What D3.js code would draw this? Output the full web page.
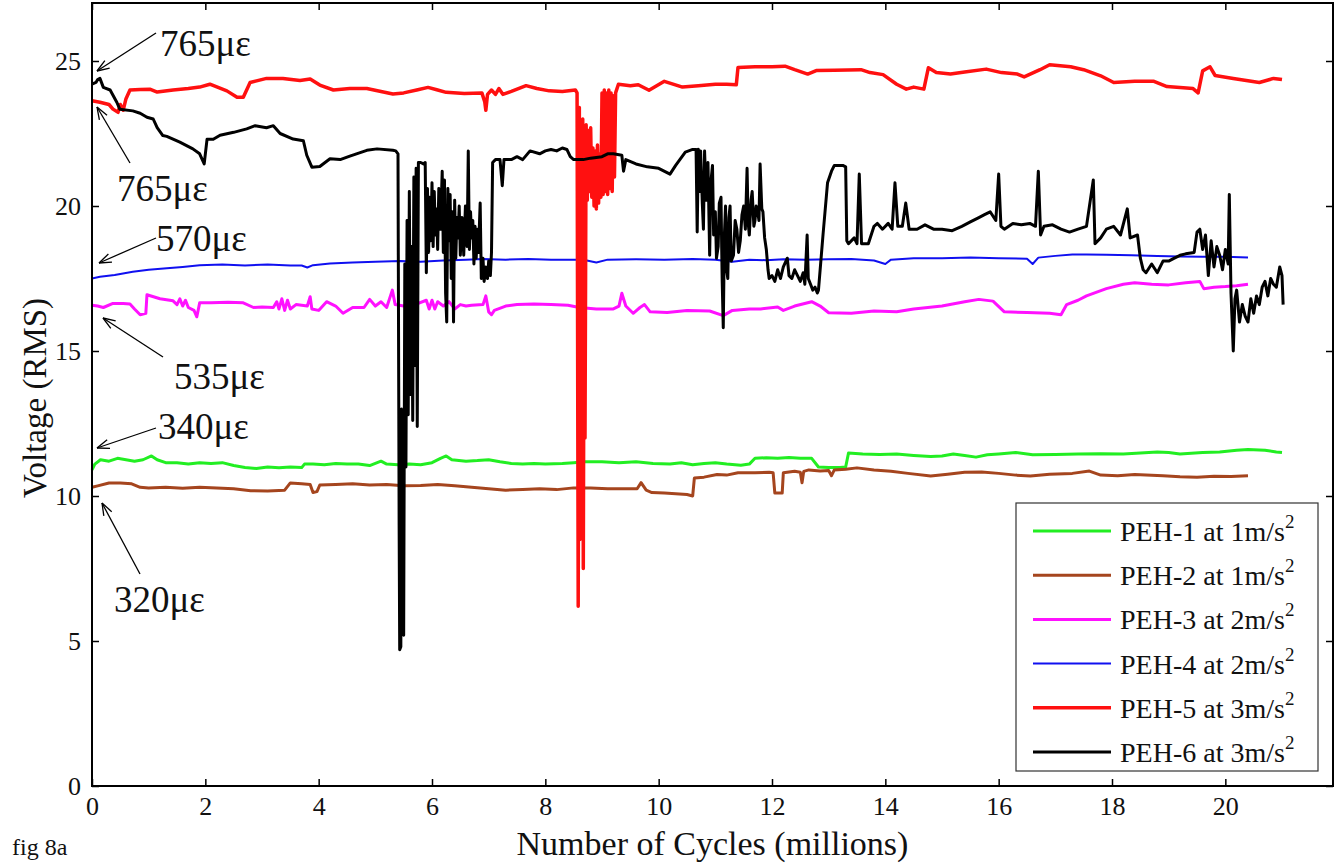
<!DOCTYPE html>
<html>
<head>
<meta charset="utf-8">
<script src="https://cdn.jsdelivr.net/npm/d3@7"></script>
<style>
  body { margin: 0; background: #fff; }
  svg { display: block; font-family: "Liberation Serif", "Times New Roman", serif; }
</style>
</head>
<body>
<div id="chart"></div>
<script>
// x = cycles (millions), y = voltage (RMS)
var xTicks = [0, 2, 4, 6, 8, 10, 12, 14, 16, 18, 20];
var yTicks = [0, 5, 10, 15, 20, 25];

var labels = ["PEH-1 at 1m/s", "PEH-2 at 1m/s", "PEH-3 at 2m/s", "PEH-4 at 2m/s", "PEH-5 at 3m/s", "PEH-6 at 3m/s"];

var peh1 = [[0,10.9],[0.05,11.1],[0.15,11.25],[0.3,11.2],[0.45,11.3],[0.6,11.25],[0.75,11.2],[0.9,11.25],[1.05,11.38],
  [1.15,11.25],[1.3,11.15],[1.5,11.15],[1.7,11.1],[1.9,11.15],[2.1,11.12],[2.3,11.15],[2.5,11.05],[2.7,10.98],[2.9,10.95],
  [3.1,11.0],[3.3,10.97],[3.5,11.0],[3.7,10.98],[3.75,11.1],[3.9,11.1],[4.1,11.08],[4.3,11.12],[4.5,11.1],[4.7,11.1],
  [4.9,11.05],[5.1,11.2],[5.2,11.1],[5.4,11.08],[5.6,11.1],[5.8,11.08],[6.0,11.15],[6.15,11.3],[6.25,11.38],[6.35,11.25],
  [6.6,11.2],[6.8,11.22],[7.0,11.25],[7.2,11.18],[7.4,11.12],[7.6,11.1],[7.8,11.12],[8.0,11.1],[8.3,11.12],[8.5,11.15],
  [8.7,11.18],[9.0,11.18],[9.3,11.15],[9.6,11.18],[9.9,11.12],[10.2,11.1],[10.4,11.15],[10.6,11.08],[10.8,11.12],
  [11.0,11.15],[11.2,11.1],[11.45,11.06],[11.6,11.1],[11.7,11.3],[11.9,11.32],[12.1,11.3],[12.3,11.33],[12.5,11.3],
  [12.7,11.3],[12.82,11.0],[13.0,10.98],[13.2,10.98],[13.3,11.0],[13.35,11.48],[13.6,11.45],[13.9,11.43],[14.2,11.45],
  [14.5,11.4],[14.8,11.36],[15.0,11.38],[15.2,11.45],[15.4,11.4],[15.6,11.34],[15.8,11.42],[16.0,11.45],[16.3,11.5],
  [16.6,11.42],[17.0,11.43],[17.4,11.45],[17.8,11.46],[18.2,11.45],[18.5,11.48],[18.8,11.52],[19.0,11.5],[19.2,11.45],
  [19.6,11.5],[19.9,11.52],[20.2,11.58],[20.4,11.6],[20.7,11.58],[20.9,11.52],[21.0,11.5]];

var peh2 = [[0,10.3],[0.1,10.35],[0.3,10.45],[0.5,10.45],[0.7,10.42],[0.85,10.3],[1.0,10.28],[1.3,10.3],[1.6,10.27],
  [1.9,10.3],[2.2,10.28],[2.5,10.25],[2.8,10.18],[3.1,10.17],[3.4,10.2],[3.5,10.45],[3.7,10.42],[3.85,10.4],[3.9,10.12],
  [3.97,10.15],[4.02,10.38],[4.3,10.4],[4.6,10.42],[4.9,10.38],[5.2,10.4],[5.5,10.35],[5.8,10.36],[6.1,10.4],[6.4,10.35],
  [6.7,10.3],[7.0,10.25],[7.3,10.2],[7.6,10.22],[7.9,10.25],[8.2,10.22],[8.5,10.28],[8.8,10.28],[9.1,10.25],[9.4,10.25],
  [9.62,10.25],[9.69,10.46],[9.78,10.2],[9.88,10.12],[10.1,10.1],[10.3,10.08],[10.5,10.05],[10.6,10.0],[10.63,10.62],
  [10.8,10.65],[11.03,10.74],[11.2,10.72],[11.4,10.8],[11.7,10.8],[11.95,10.82],[12.02,10.8],[12.05,10.1],[12.18,10.1],
  [12.2,10.8],[12.4,10.85],[12.5,10.82],[12.53,10.46],[12.56,10.85],[12.65,10.9],[12.85,10.86],[13.0,10.88],[13.05,10.7],
  [13.1,10.9],[13.3,10.92],[13.5,10.97],[13.8,10.9],[14.1,10.85],[14.4,10.78],[14.8,10.69],[15.1,10.75],[15.4,10.82],
  [15.7,10.83],[16.0,10.78],[16.3,10.72],[16.56,10.69],[16.9,10.75],[17.3,10.78],[17.6,10.86],[17.8,10.72],[18.1,10.7],
  [18.4,10.74],[18.6,10.72],[18.9,10.7],[19.2,10.66],[19.5,10.65],[19.8,10.68],[20.1,10.67],[20.4,10.7]];

var peh3 = [[0,16.58],[0.1,16.55],[0.2,16.5],[0.37,16.64],[0.55,16.64],[0.67,16.62],[0.75,16.45],[0.85,16.25],[0.95,16.3],
  [0.97,16.94],[1.2,16.8],[1.43,16.73],[1.5,16.6],[1.55,16.8],[1.6,16.55],[1.65,16.75],[1.7,16.5],[1.8,16.4],[1.85,16.18],
  [1.9,16.66],[2.1,16.66],[2.4,16.68],[2.67,16.66],[2.85,16.5],[3.0,16.52],[3.2,16.5],[3.26,16.7],[3.3,16.45],[3.35,16.8],
  [3.4,16.4],[3.45,16.75],[3.5,16.45],[3.6,16.6],[3.8,16.55],[3.85,16.87],[3.88,16.45],[4.0,16.4],[4.14,16.7],[4.3,16.55],
  [4.43,16.3],[4.6,16.5],[4.8,16.5],[4.9,16.78],[5.0,16.55],[5.1,16.7],[5.2,16.5],[5.3,17.1],[5.35,16.6],[5.5,16.55],
  [5.7,16.6],[5.9,16.75],[5.95,16.45],[6.0,16.75],[6.05,16.45],[6.1,16.7],[6.2,16.55],[6.3,16.7],[6.4,16.45],[6.5,16.6],
  [6.6,16.55],[6.7,16.58],[6.9,16.6],[6.95,16.9],[7.0,16.35],[7.05,16.25],[7.1,16.4],[7.3,16.55],[7.5,16.6],[7.8,16.62],
  [8.1,16.6],[8.4,16.58],[8.6,16.5],[8.9,16.45],[9.2,16.45],[9.3,16.55],[9.35,16.99],[9.42,16.55],[9.55,16.3],[9.67,16.5],
  [9.75,16.6],[9.85,16.35],[10.15,16.33],[10.5,16.4],[10.9,16.38],[11.14,16.22],[11.3,16.4],[11.6,16.45],[11.8,16.45],
  [12.1,16.52],[12.2,16.4],[12.4,16.55],[12.7,16.7],[12.85,16.55],[13.0,16.32],[13.4,16.3],[13.8,16.38],[14.2,16.35],
  [14.5,16.45],[15.0,16.55],[15.4,16.7],[15.65,16.78],[15.9,16.72],[16.1,16.35],[16.5,16.33],[16.9,16.3],[17.1,16.25],
  [17.2,16.6],[17.4,16.75],[17.55,16.9],[17.9,17.15],[18.2,17.3],[18.4,17.35],[18.7,17.3],[19.0,17.28],[19.3,17.35],
  [19.55,17.4],[19.62,17.15],[19.8,17.2],[20.0,17.22],[20.2,17.25],[20.4,17.3]];

var peh4 = [[0,17.5],[0.14,17.56],[0.4,17.62],[0.72,17.73],[1.0,17.8],[1.32,17.85],[1.6,17.9],[1.9,17.96],[2.3,17.98],
  [2.7,17.95],[3.1,17.98],[3.5,17.95],[3.7,17.95],[3.8,17.88],[3.9,17.96],[4.2,18.02],[4.6,18.05],[5.0,18.08],[5.44,18.1],
  [5.8,18.08],[6.2,18.12],[6.6,18.15],[6.9,18.17],[7.3,18.15],[7.7,18.17],[8.1,18.15],[8.67,18.15],[8.9,18.05],[9.1,18.15],
  [9.6,18.16],[10.1,18.15],[10.6,18.17],[11.0,18.15],[11.3,18.08],[11.6,18.15],[11.9,18.13],[12.2,18.16],[12.6,18.15],
  [13.0,18.16],[13.4,18.17],[13.8,18.12],[14.0,18.0],[14.1,18.15],[14.5,18.2],[15.0,18.2],[15.5,18.22],[16.0,18.2],
  [16.5,18.18],[16.6,18.0],[16.7,18.22],[17.0,18.28],[17.3,18.33],[17.55,18.33],[17.9,18.32],[18.34,18.3],[18.8,18.28],
  [19.2,18.26],[19.6,18.25],[20.0,18.25],[20.4,18.22]];

var peh5 = [[0,23.63],[0.14,23.58],[0.3,23.5],[0.37,23.34],[0.46,23.23],[0.5,23.5],[0.55,23.3],[0.6,23.7],[0.67,24.0],
  [0.85,24.02],[1.02,24.03],[1.15,23.93],[1.43,24.0],[1.7,24.05],[1.9,24.1],[2.08,24.2],[2.38,23.97],[2.56,23.75],
  [2.67,23.75],[2.79,24.26],[3.08,24.4],[3.37,24.4],[3.67,24.33],[3.85,24.38],[4.02,24.17],[4.26,24.0],[4.55,24.05],
  [4.85,24.05],[5.1,23.95],[5.31,23.86],[5.5,23.9],[5.73,24.0],[5.93,24.09],[6.1,24.0],[6.25,23.92],[6.57,23.88],
  [6.88,23.9],[6.93,23.6],[6.95,23.3],[6.98,23.85],[7.05,24.0],[7.12,23.85],[7.18,24.05],[7.25,23.85],[7.4,23.95],
  [7.66,24.15],[7.85,24.05],[8.07,23.97],[8.3,23.95],[8.53,24.0],[8.56,23.9],
  [8.58,6.2],[8.6,23.4],[8.61,8.5],[8.63,22.8],[8.64,10.5],[8.66,23.0],[8.67,7.5],[8.69,22.5],[8.7,12.0],[8.72,22.8],
  [8.74,20.2],[8.76,22.6],[8.78,20.5],[8.8,22.7],[8.82,20.3],[8.84,22.0],[8.86,20.0],[8.88,21.9],[8.9,19.9],[8.92,22.1],
  [8.94,20.1],[8.96,21.8],[8.98,20.3],[9.0,23.9],[9.02,20.4],[9.04,24.0],[9.06,20.5],[9.08,23.9],[9.1,20.4],[9.12,24.0],
  [9.14,20.6],[9.16,23.9],[9.18,20.5],[9.2,23.8],[9.22,21.0],[9.24,23.9],[9.29,24.2],
  [9.5,24.15],[9.64,24.18],[9.83,23.99],[10.1,24.3],[10.42,24.1],[10.7,24.15],[11.0,24.2],[11.2,24.2],[11.37,24.18],
  [11.4,24.78],[11.7,24.8],[12.0,24.8],[12.23,24.82],[12.4,24.7],[12.63,24.55],[12.78,24.67],[13.1,24.68],[13.57,24.7],
  [13.73,24.6],[13.96,24.53],[14.2,24.2],[14.37,24.03],[14.5,24.1],[14.68,24.03],[14.76,24.77],[14.9,24.6],[15.15,24.55],
  [15.4,24.62],[15.78,24.72],[16.05,24.6],[16.33,24.55],[16.45,24.45],[16.73,24.7],[16.9,24.87],[17.27,24.8],[17.5,24.7],
  [17.8,24.49],[18.03,24.26],[18.4,24.3],[18.74,24.3],[18.97,24.12],[19.43,24.05],[19.52,23.9],[19.6,24.66],[19.73,24.8],
  [19.82,24.5],[20.14,24.4],[20.6,24.26],[20.85,24.4],[21.0,24.36]];

var peh6 = [[0,24.2],[0.07,24.26],[0.1,24.36],[0.14,24.4],[0.2,24.09],[0.32,24.0],[0.44,23.57],[0.49,23.34],[0.72,23.28],
  [0.85,23.2],[0.97,23.06],[1.08,23.0],[1.15,22.7],[1.25,22.43],[1.32,22.4],[1.55,22.2],[1.78,21.97],[1.9,21.8],
  [1.98,21.45],[2.03,22.3],[2.14,22.3],[2.26,22.44],[2.5,22.54],[2.73,22.66],[2.88,22.77],[3.08,22.7],[3.2,22.77],
  [3.32,22.5],[3.55,22.31],[3.73,22.25],[3.79,21.75],[3.88,21.34],[4.02,21.36],[4.2,21.63],[4.38,21.6],[4.55,21.72],
  [4.85,21.92],[5.03,21.97],[5.31,21.92],[5.36,21.9],[5.4,21.8],
  [5.42,9.0],[5.43,4.7],[5.45,4.8],[5.46,13.0],[5.47,5.5],[5.49,10.5],[5.5,5.2],[5.52,18.0],[5.54,11.0],[5.56,19.5],
  [5.58,12.8],[5.6,20.5],[5.62,13.5],[5.64,18.6],[5.66,12.6],[5.68,21.0],[5.7,14.5],[5.72,21.3],[5.74,12.4],[5.76,21.5],
  [5.8,21.5],[5.85,21.45],[5.88,21.5],[5.9,17.7],[5.92,20.6],[5.94,18.4],[5.96,20.3],[5.98,18.8],[6.0,20.8],[6.02,18.6],
  [6.04,20.5],[6.06,19.0],[6.08,19.9],[6.1,18.5],[6.12,20.6],[6.15,19.2],[6.18,21.2],[6.2,18.4],[6.22,20.9],[6.24,17.0],
  [6.26,16.0],[6.28,20.6],[6.3,18.8],[6.32,20.4],[6.34,17.5],[6.36,19.8],[6.38,16.0],[6.4,20.2],[6.42,18.2],[6.44,19.6],
  [6.46,18.9],[6.48,20.0],[6.5,18.3],[6.53,19.6],[6.56,18.3],[6.59,20.0],[6.62,18.6],[6.64,21.9],[6.66,18.5],[6.68,19.8],
  [6.7,18.9],[6.72,19.5],[6.74,18.0],[6.76,19.3],[6.78,18.2],[6.8,19.2],[6.82,18.4],[6.85,20.1],[6.87,17.5],[6.9,18.2],
  [6.92,17.4],[6.95,17.9],[6.98,17.5],[7.0,18.1],[7.03,17.6],[7.05,18.4],[7.07,21.5],[7.12,21.6],[7.2,21.6],
  [7.24,20.7],[7.27,21.6],[7.4,21.6],[7.5,21.7],[7.6,21.6],[7.73,21.9],[7.9,21.8],[8.0,21.9],[8.1,21.95],[8.2,21.9],
  [8.3,22.0],[8.38,21.95],[8.44,21.7],[8.5,21.6],[8.67,21.6],[8.8,21.65],[9.0,21.7],[9.1,21.8],[9.2,21.8],[9.35,21.75],
  [9.38,21.2],[9.42,21.6],[9.6,21.45],[9.8,21.35],[10.0,21.3],[10.2,21.1],[10.3,21.4],[10.47,21.86],[10.6,21.95],
  [10.66,21.95],[10.68,19.1],[10.7,21.96],[10.72,20.5],[10.74,21.9],[10.77,20.1],[10.79,19.2],[10.81,21.9],[10.84,20.2],
  [10.87,21.5],[10.9,18.3],[10.92,20.8],[10.95,21.4],[10.97,19.0],[11.0,19.8],[11.02,18.2],[11.05,18.6],[11.07,20.1],
  [11.1,20.3],[11.12,17.5],[11.14,15.8],[11.16,19.0],[11.18,20.0],[11.2,17.8],[11.22,17.5],[11.24,19.6],[11.26,20.0],
  [11.28,18.1],[11.32,18.3],[11.35,19.5],[11.38,19.2],[11.41,18.4],[11.44,18.8],[11.47,19.7],[11.5,20.0],[11.53,19.2],
  [11.56,21.3],[11.58,19.4],[11.6,19.0],[11.63,20.2],[11.65,20.5],[11.68,19.3],[11.7,19.5],[11.72,20.0],[11.74,19.9],
  [11.77,19.5],[11.79,21.45],[11.82,19.9],[11.84,19.8],[11.87,18.9],[11.9,18.5],[11.93,17.8],[11.95,17.5],[12.0,17.6],
  [12.05,17.4],[12.1,17.8],[12.15,17.5],[12.2,17.9],[12.27,18.2],[12.3,17.6],[12.35,17.5],[12.4,17.8],[12.45,17.6],
  [12.5,17.4],[12.55,17.7],[12.58,17.3],[12.62,19.0],[12.64,17.5],[12.68,17.3],[12.72,17.1],[12.76,17.2],[12.8,17.0],
  [12.82,17.1],[12.9,19.0],[12.98,20.8],[13.05,21.2],[13.1,21.4],[13.25,21.4],[13.3,21.35],[13.32,18.8],
  [13.35,18.7],[13.45,18.9],[13.5,18.7],[13.54,21.1],[13.58,18.7],[13.7,18.7],[13.8,19.3],[13.86,19.4],[13.95,19.2],
  [14.05,19.4],[14.12,19.2],[14.17,20.8],[14.22,19.3],[14.3,19.3],[14.36,20.1],[14.42,19.2],[14.56,19.2],[14.7,19.35],
  [14.85,19.2],[15.0,19.2],[15.18,19.15],[15.35,19.3],[15.5,19.45],[15.65,19.6],[15.75,19.7],[15.85,19.8],[15.95,19.5],
  [16.0,21.1],[16.04,19.3],[16.1,19.2],[16.25,19.4],[16.4,19.35],[16.55,19.4],[16.65,19.3],[16.7,21.2],[16.74,19.0],
  [16.8,19.3],[16.95,19.35],[17.1,19.2],[17.25,19.1],[17.4,19.2],[17.55,19.3],[17.67,20.9],[17.7,18.7],[17.8,18.9],
  [17.9,19.2],[18.03,19.3],[18.15,19.0],[18.27,19.9],[18.32,18.9],[18.45,19.0],[18.5,18.2],[18.55,17.8],[18.6,17.7],
  [18.7,18.0],[18.8,17.7],[18.9,18.1],[19.0,18.1],[19.1,18.2],[19.2,18.3],[19.3,18.35],[19.45,18.4],[19.5,19.1],
  [19.55,19.2],[19.6,18.5],[19.65,19.0],[19.7,17.6],[19.75,18.8],[19.8,17.9],[19.85,18.6],[19.9,18.3],[19.95,17.8],
  [20.0,18.5],[20.05,18.0],[20.07,20.4],[20.1,17.0],[20.14,15.0],[20.17,16.8],[20.2,17.1],[20.25,16.0],[20.3,16.6],
  [20.35,16.2],[20.4,16.0],[20.45,16.8],[20.5,16.3],[20.55,16.9],[20.6,16.6],[20.65,17.2],[20.7,17.4],[20.75,16.9],
  [20.8,17.5],[20.85,17.3],[20.9,17.2],[20.96,17.9],[21.0,17.6],[21.02,16.6]];

var seriesData = [peh1, peh2, peh3, peh4, peh5, peh6];
var colors = ["#22ee22", "#a5451e", "#ff11ff", "#1010f0", "#ff1010", "#000000"];
var widths = [3, 3, 3, 2, 3.5, 3];

// strain annotations (pixel layout)
var notes = [
  {t: "765με", tx: 160, ty: 56, x1: 156, y1: 33, x2: 97, y2: 71},
  {t: "765με", tx: 117, ty: 201, x1: 130, y1: 163, x2: 97, y2: 107},
  {t: "570με", tx: 156, ty: 251, x1: 156, y1: 238, x2: 99, y2: 263},
  {t: "535με", tx: 174, ty: 389, x1: 163, y1: 357, x2: 103, y2: 318},
  {t: "340με", tx: 158, ty: 439, x1: 156, y1: 428, x2: 97, y2: 448},
  {t: "320με", tx: 114, ty: 612, x1: 140, y1: 574, x2: 102, y2: 503}
];

var W = 1339, H = 864;
var plotL = 92, plotR = 1333, plotT = 3, plotB = 786;

var svg = d3.select("#chart").append("svg")
    .attr("width", W)
    .attr("height", H);

var x = d3.scaleLinear().domain([0, 21.9]).range([plotL, plotR]);
var y = d3.scaleLinear().domain([0, 27]).range([plotB, plotT]);

var tickFont = 26;

// axes, ticks pointing inward
svg.append("g")
    .attr("transform", "translate(0," + plotB + ")")
    .call(d3.axisBottom(x).tickValues(xTicks).tickSizeInner(-7).tickSizeOuter(0).tickPadding(11));
svg.append("g")
    .attr("transform", "translate(" + plotL + ",0)")
    .call(d3.axisLeft(y).tickValues(yTicks).tickSizeInner(-7).tickSizeOuter(0).tickPadding(11));
svg.append("g")
    .attr("transform", "translate(0," + plotT + ")")
    .call(d3.axisTop(x).tickValues(xTicks).tickSizeInner(-7).tickSizeOuter(0).tickFormat(""));
svg.append("g")
    .attr("transform", "translate(" + plotR + ",0)")
    .call(d3.axisRight(y).tickValues(yTicks).tickSizeInner(-7).tickSizeOuter(0).tickFormat(""));

svg.selectAll(".domain").remove();
svg.selectAll(".tick line").attr("stroke", "#000").attr("stroke-width", 1.5);
svg.selectAll(".tick text")
    .attr("font-family", "Liberation Serif, Times New Roman, serif")
    .attr("font-size", tickFont)
    .attr("fill", "#111");

// series
var line = d3.line()
    .x(function(d) { return x(d[0]); })
    .y(function(d) { return y(d[1]); });

svg.append("g").selectAll("path")
    .data(seriesData)
    .enter()
    .append("path")
    .attr("d", line)
    .attr("fill", "none")
    .attr("stroke", function(d, i) { return colors[i]; })
    .attr("stroke-width", function(d, i) { return widths[i]; })
    .attr("stroke-linejoin", "round");

// frame
svg.append("rect")
    .attr("x", plotL).attr("y", plotT)
    .attr("width", plotR - plotL).attr("height", plotB - plotT)
    .attr("fill", "none").attr("stroke", "#000").attr("stroke-width", 2);

// legend
var lg = svg.append("g");
lg.append("rect")
    .attr("x", 1016).attr("y", 503)
    .attr("width", 302).attr("height", 268)
    .attr("fill", "#fff").attr("stroke", "#333").attr("stroke-width", 1.2);

var rows = lg.selectAll("g.row")
    .data(labels)
    .enter()
    .append("g")
    .attr("class", "row")
    .attr("transform", function(d, i) { return "translate(0," + (531 + i * 44.2) + ")"; });

rows.append("line")
    .attr("x1", 1033).attr("x2", 1111)
    .attr("stroke", function(d, i) { return colors[i]; })
    .attr("stroke-width", function(d, i) { return widths[i]; });

var lt = rows.append("text")
    .attr("x", 1120).attr("y", 10)
    .attr("font-size", 28)
    .attr("fill", "#111");
lt.append("tspan").text(function(d) { return d; });
lt.append("tspan").attr("dy", -13).attr("font-size", 19).text("2");

// annotations
var ng = svg.append("g");
notes.forEach(function(n) {
  ng.append("line")
    .attr("x1", n.x1).attr("y1", n.y1).attr("x2", n.x2).attr("y2", n.y2)
    .attr("stroke", "#000").attr("stroke-width", 1.3);
  var a = Math.atan2(n.y1 - n.y2, n.x1 - n.x2);
  [-0.35, 0.35].forEach(function(s) {
    ng.append("line")
      .attr("x1", n.x2).attr("y1", n.y2)
      .attr("x2", n.x2 + 13 * Math.cos(a + s))
      .attr("y2", n.y2 + 13 * Math.sin(a + s))
      .attr("stroke", "#000").attr("stroke-width", 1.3);
  });
  ng.append("text")
    .attr("x", n.tx).attr("y", n.ty)
    .attr("font-size", 37)
    .attr("fill", "#111")
    .text(n.t);
});

// axis titles
svg.append("text")
    .attr("x", (plotL + plotR) / 2).attr("y", 855)
    .attr("text-anchor", "middle")
    .attr("font-size", 34)
    .attr("fill", "#111")
    .text("Number of Cycles (millions)");

svg.append("text")
    .attr("transform", "translate(46," + 398 + ") rotate(-90)")
    .attr("text-anchor", "middle")
    .attr("font-size", 33)
    .attr("fill", "#111")
    .text("Voltage (RMS)");

svg.append("text")
    .attr("x", 12).attr("y", 855)
    .attr("font-size", 24)
    .attr("fill", "#111")
    .text("fig 8a");
</script>
</body>
</html>
